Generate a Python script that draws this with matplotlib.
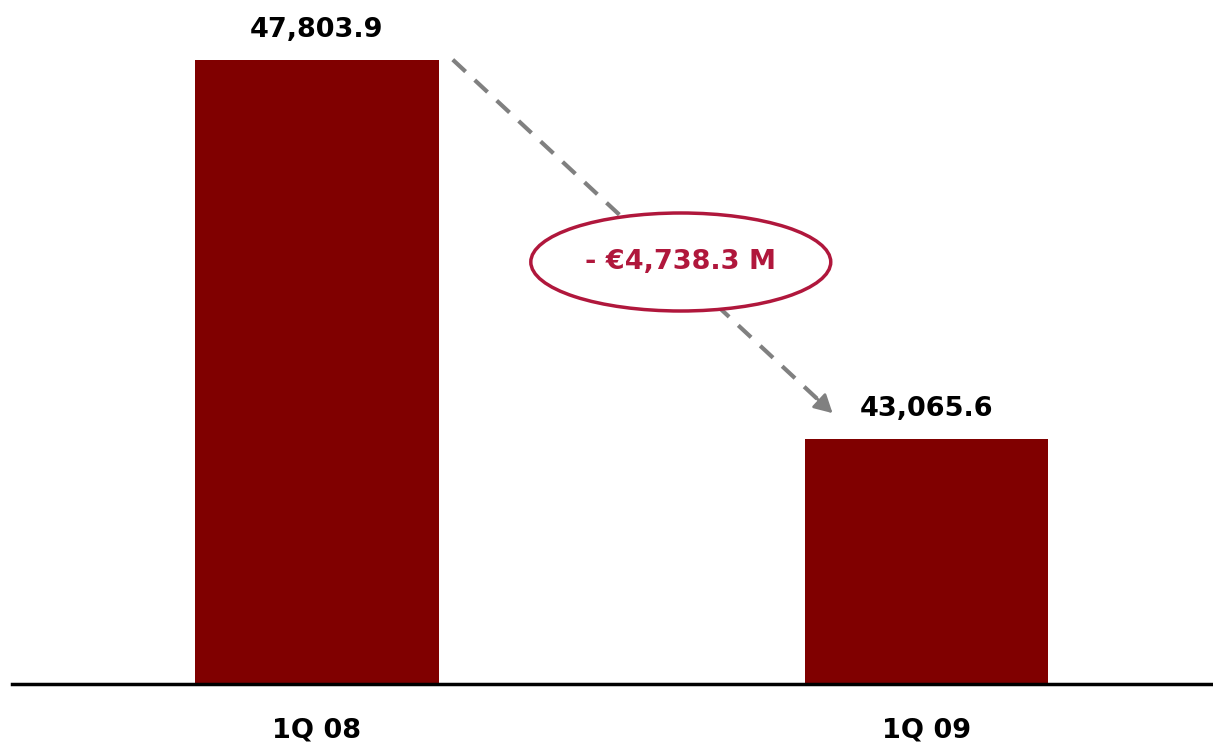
import matplotlib.pyplot as plt
from matplotlib.patches import Ellipse

# data
quarters = ["1Q 08", "1Q 09"]
values = [47803.9, 43065.6]
change_label = "- €4,738.3 M"

bar_color = "#800000"
accent = "#B0173C"
arrow_gray = "#808080"

fig = plt.figure(figsize=(12.13, 7.46), dpi=100)
ax = fig.add_axes([12 / 1213, 62 / 746, 1201 / 1213, 684 / 746])

x = list(range(len(values)))
ax.bar(x, values, width=0.4, color=bar_color, zorder=2)

ax.set_xlim(-0.5, 1.47)
ax.set_ylim(40000, 48550)

for xi, v in zip(x, values):
    ax.annotate(f"{v:,.1f}", (xi, v), xytext=(0, 12), textcoords="offset points",
                ha="center", va="bottom", fontsize=19.5, fontweight="bold", color="black")

# axis styling
for s in ["top", "right", "left"]:
    ax.spines[s].set_visible(False)
ax.spines["bottom"].set_linewidth(2.5)
ax.spines["bottom"].set_color("black")
ax.set_yticks([])
ax.set_xticks(x)
ax.set_xticklabels(quarters, fontsize=19.5, fontweight="bold")
ax.tick_params(axis="x", length=0, pad=24)

# dashed line from first bar top towards second bar, solid arrow head at the end
x0, y0 = 0.223, values[0]
x1, y1 = 0.846, values[1] + 320
fx = 0.97
ax.plot([x0, x0 + (x1 - x0) * fx], [y0, y0 + (y1 - y0) * fx], color=arrow_gray,
        lw=3, linestyle=(0, (4.2, 3.0)), zorder=1, solid_capstyle="butt")
ax.annotate("", xy=(x1, y1), xytext=(x0 + (x1 - x0) * 0.95, y0 + (y1 - y0) * 0.95),
            arrowprops=dict(arrowstyle="-|>,head_length=1.1,head_width=0.6",
                            color=arrow_gray, lw=2, shrinkA=0, shrinkB=0),
            zorder=1)

# ellipse with change value
ell = Ellipse((0.597, 45275), width=0.492, height=1225, facecolor="white",
              edgecolor=accent, lw=2.5, zorder=3)
ax.add_patch(ell)
ax.text(0.597, 45275, change_label, ha="center", va="center", fontsize=19.5,
        fontweight="bold", color=accent, zorder=4)

fig.savefig("out.png", dpi=100)
